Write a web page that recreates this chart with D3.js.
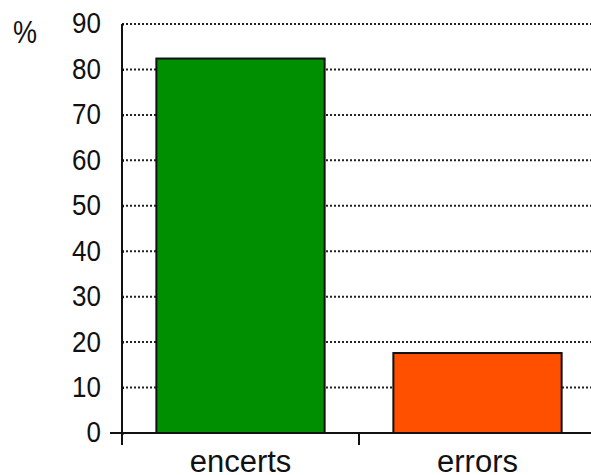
<!DOCTYPE html>
<html>
<head>
<meta charset="utf-8">
<script src="https://cdn.jsdelivr.net/npm/d3@7"></script>
<style>
  body { margin: 0; background: #fff; }
  text { font-family: "Liberation Sans", Arial, sans-serif; fill: #111; }
</style>
</head>
<body>
<div id="chart"></div>
<script>
let categories = ["encerts", "errors"];
let values = [82.4, 17.6];
let barColors = ["#008f00", "#ff5000"];
let yTicks = [0, 10, 20, 30, 40, 50, 60, 70, 80, 90];

let svgWidth = 591;
let svgHeight = 475;
let plot = { left: 122, right: 596, top: 24, bottom: 433 };

let svg = d3.select("#chart").append("svg")
  .attr("width", svgWidth).attr("height", svgHeight);

let x = d3.scaleBand().domain(categories).range([plot.left, plot.right])
  .paddingInner(0.29).paddingOuter(0.145);
let y = d3.scaleLinear().domain([0, 90]).range([plot.bottom, plot.top]);

// dotted gridlines
svg.append("g").selectAll("line")
  .data(yTicks.filter(d => d > 0))
  .enter().append("line")
  .attr("x1", plot.left).attr("x2", svgWidth)
  .attr("y1", d => y(d)).attr("y2", d => y(d))
  .attr("stroke", "#222").attr("stroke-width", 2)
  .attr("stroke-dasharray", "2,2");

// bars
svg.append("g").selectAll("rect")
  .data(values)
  .enter().append("rect")
  .attr("x", (d, i) => x(categories[i]))
  .attr("width", x.bandwidth())
  .attr("y", d => y(d))
  .attr("height", d => y(0) - y(d))
  .attr("fill", (d, i) => barColors[i])
  .attr("stroke", "#111").attr("stroke-width", 2);

// y axis
let yAxis = svg.append("g")
  .attr("transform", `translate(${plot.left},0)`)
  .call(d3.axisLeft(y).tickValues(yTicks).tickSizeInner(11).tickSizeOuter(0).tickPadding(10));
yAxis.select(".domain").remove();
yAxis.selectAll(".tick line").attr("x2", 2).attr("stroke", "#111").attr("stroke-width", 2);
yAxis.selectAll(".tick text")
  .attr("font-size", 26)
  .attr("transform", "scale(1,1.15)")
  .attr("dy", "0.3em");
yAxis.append("line")
  .attr("y1", plot.top).attr("y2", plot.bottom + 12)
  .attr("stroke", "#111").attr("stroke-width", 2);

// x axis
svg.append("line")
  .attr("x1", plot.left - 12).attr("x2", svgWidth)
  .attr("y1", plot.bottom).attr("y2", plot.bottom)
  .attr("stroke", "#111").attr("stroke-width", 2);
svg.append("g").selectAll("line")
  .data(d3.range(1, categories.length + 1))
  .enter().append("line")
  .attr("x1", i => plot.left + i * x.step()).attr("x2", i => plot.left + i * x.step())
  .attr("y1", plot.bottom).attr("y2", plot.bottom + 12)
  .attr("stroke", "#111").attr("stroke-width", 2);

svg.append("g").selectAll("text")
  .data(categories)
  .enter().append("text")
  .attr("x", d => x(d) + x.bandwidth() / 2)
  .attr("y", 472)
  .attr("text-anchor", "middle")
  .attr("font-size", 31)
  .text(d => d);

// unit label
svg.append("text")
  .attr("x", 25).attr("y", 43 / 1.15)
  .attr("text-anchor", "middle")
  .attr("font-size", 27)
  .attr("transform", "scale(1,1.15)")
  .text("%");
</script>
</body>
</html>
